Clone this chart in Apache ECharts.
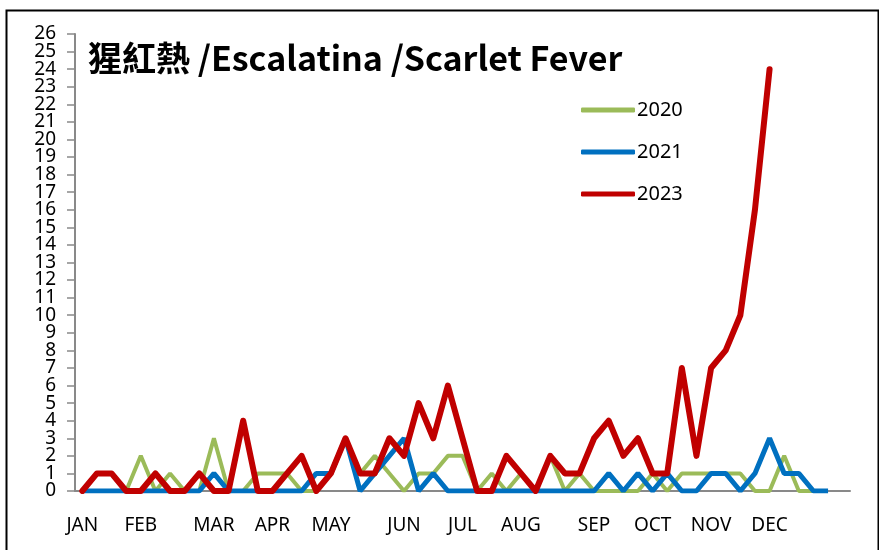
<!DOCTYPE html>
<html>
<head>
<meta charset="utf-8">
<script src="https://cdn.jsdelivr.net/npm/echarts@6/dist/echarts.min.js"></script>
<style>
  html, body { margin: 0; padding: 0; background: #fff; }
  #chart-container { width: 879px; height: 550px; }
</style>
</head>
<body>
<div id="chart-container"></div>
<script>
// Semanas del año (53) y etiquetas de mes
const weeks = Array.from({ length: 53 }, (_, i) => i + 1);
const monthLabels = ['JAN', 'FEB', 'MAR', 'APR', 'MAY', 'JUN', 'JUL', 'AUG', 'SEP', 'OCT', 'NOV', 'DEC'];
const monthWeekIndex = [0, 4, 9, 13, 17, 22, 26, 30, 35, 39, 43, 47];
const yTicks = { min: 0, max: 26, interval: 1 };

// Casos por semana
const cases2020 = [0, 0, 0, 0, 2, 0, 1, 0, 0, 3, 0, 0, 1, 1, 1, 0, 0, 1, 3, 1,
  2, 1, 0, 1, 1, 2, 2, 0, 1, 0, 1, 0, 2, 0, 1, 0, 0, 0, 0, 1,
  0, 1, 1, 1, 1, 1, 0, 0, 2, 0, 0];
const cases2021 = [0, 0, 0, 0, 0, 0, 0, 0, 0, 1, 0, 0, 0, 0, 0, 0, 1, 1, 3, 0,
  1, 2, 3, 0, 1, 0, 0, 0, 0, 0, 0, 0, 0, 0, 0, 0, 1, 0, 1, 0,
  1, 0, 0, 1, 1, 0, 1, 3, 1, 1, 0, 0];
const cases2023 = [0, 1, 1, 0, 0, 1, 0, 0, 1, 0, 0, 4, 0, 0, 1, 2, 0, 1, 3, 1,
  1, 3, 2, 5, 3, 6, 3, 0, 0, 2, 1, 0, 2, 1, 1, 3, 4, 2, 3, 1,
  1, 7, 2, 7, 8, 10, 16, 24];

function initChart() {
    const chartDom = document.getElementById('chart-container');
    const myChart = echarts.init(chartDom);

    const labelFont = '"Noto Sans", "Open Sans", sans-serif';

    // Las etiquetas del eje Y van en dos ejes (pares / impares) para que no se oculten
    const yLabelStyle = {
        margin: 19,
        showMinLabel: true,
        showMaxLabel: true,
        fontFamily: labelFont,
        fontSize: 19,
        color: '#000'
    };
    const makeYAxis = (even, visibleLine) => ({
        type: 'value',
        position: 'left',
        min: yTicks.min,
        max: yTicks.max,
        interval: yTicks.interval,
        axisLine: { show: visibleLine, lineStyle: { color: '#898989', width: 2 } },
        axisTick: { show: visibleLine, length: 8, lineStyle: { color: '#898989', width: 1.5 } },
        splitLine: { show: false },
        axisLabel: Object.assign({}, yLabelStyle, {
            formatter: v => ((v % 2 === 0) === even ? String(v) : '')
        })
    });

    const option = {
        animation: false,
        backgroundColor: '#fff',
        title: {
            text: '猩紅熱 /Escalatina /Scarlet Fever',
            left: 83,
            top: 36,
            textStyle: {
                fontFamily: '"Noto Sans CJK TC", "Noto Sans", sans-serif',
                fontSize: 34,
                fontWeight: 'bold',
                color: '#000'
            }
        },
        legend: {
            orient: 'vertical',
            left: 576,
            top: 95,
            itemWidth: 54,
            itemHeight: 5,
            itemGap: 22,
            icon: 'roundRect',
            textStyle: { fontFamily: labelFont, fontSize: 20, color: '#000', padding: [0, 0, 0, -3] },
            data: ['2020', '2021', '2023']
        },
        grid: { left: 75, right: 29, top: 34, bottom: 59 },
        xAxis: {
            type: 'category',
            data: weeks,
            boundaryGap: true,
            axisLine: { lineStyle: { color: '#898989', width: 2 } },
            axisTick: { interval: 0, length: 8, lineStyle: { color: '#898989', width: 1.5 } },
            axisLabel: {
                interval: 0,
                margin: 25,
                fontFamily: labelFont,
                fontSize: 19,
                color: '#000',
                formatter: (value, idx) => {
                    const k = monthWeekIndex.indexOf(idx);
                    return k >= 0 ? monthLabels[k] : '';
                }
            }
        },
        yAxis: [makeYAxis(true, true), makeYAxis(false, false)],
        series: [
            {
                name: '2020', type: 'line', data: cases2020, symbol: 'none',
                itemStyle: { color: '#9BBB59' },
                lineStyle: { color: '#9BBB59', width: 4 }
            },
            {
                name: '2021', type: 'line', data: cases2021, symbol: 'none',
                itemStyle: { color: '#0070C0' },
                lineStyle: { color: '#0070C0', width: 5 }
            },
            {
                name: '2023', type: 'line', data: cases2023, symbol: 'none',
                itemStyle: { color: '#C00000' },
                lineStyle: { color: '#C00000', width: 6, cap: 'round', join: 'round' }
            }
        ],
        graphic: [{
            type: 'rect',
            left: 4, top: 8,
            shape: { width: 872, height: 545 },
            style: { fill: 'none', stroke: '#000', lineWidth: 2 },
            silent: true
        }]
    };

    myChart.setOption(option);
}

initChart();
</script>
</body>
</html>
